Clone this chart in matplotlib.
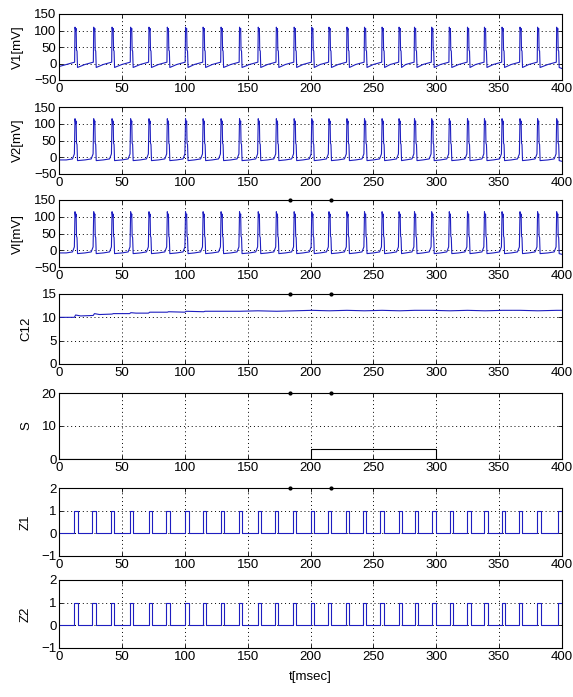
import numpy as np
import matplotlib
matplotlib.use("Agg")
import matplotlib.pyplot as plt

plt.rcParams['font.family'] = ['Liberation Sans', 'DejaVu Sans']
plt.rcParams['font.size'] = 9.5

# spike times of the membrane potentials [msec]
spikes = [12.5, 27.4, 42.0, 56.8, 71.4, 86.0, 100.5, 114.5, 128.8, 143.5,
          158.4, 172.8, 187.0, 201.0, 214.7, 229.0, 243.0, 257.0, 270.5, 282.8,
          296.5, 310.5, 325.0, 338.5, 352.5, 366.8, 380.8, 396.0]

# spike waveform (offset from spike time, value in mV)
v1_dt = [-7.0, -0.3, 0.0, 0.5, 0.9, 1.2, 1.6, 2.0]
v1_v = [-3.0, 4.0, 110.0, 100.0, 106.0, 40.0, 38.0, -12.0]
v2_dt = [-7.0, -2.0, -0.5, 0.0, 0.5, 0.9, 1.2, 1.6, 2.0]
v2_v = [-8.0, -5.0, 10.0, 115.0, 100.0, 108.0, 42.0, 38.0, -10.0]

# coupling strength C12
c12_t = [0, 12, 13, 17, 27, 28, 32, 42, 43, 56, 57, 61, 71, 72, 86, 87, 100, 101,
         115, 116, 129, 144, 158, 173, 187, 201, 215, 229, 243, 257, 271, 283,
         297, 311, 325, 339, 353, 367, 381, 396, 400]
c12_v = [10.0, 10.0, 10.5, 10.3, 10.4, 10.8, 10.6, 10.7, 10.8, 10.8, 11.0, 10.9,
         10.9, 11.1, 11.1, 11.2, 11.1, 11.3, 11.2, 11.3, 11.3, 11.3, 11.4, 11.3,
         11.4, 11.5, 11.4, 11.5, 11.4, 11.5, 11.4, 11.5, 11.5, 11.4, 11.5, 11.4,
         11.5, 11.5, 11.4, 11.5, 11.5]

# stimulus S
s_t = [0, 200, 200, 300, 300, 400]
s_v = [0, 0, 3, 3, 0, 0]

# pulse outputs Z1, Z2 (rise times, pulse length)
z_on = [11.9, 26.4, 41.0, 56.1, 71.3, 85.3, 100.4, 114.4, 128.4, 142.9,
        158.1, 171.8, 185.7, 200.3, 214.0, 227.9, 241.9, 255.6, 270.1, 283.2,
        297.1, 310.8, 324.8, 338.5, 352.1, 366.1, 380.7, 397.3]
z_len = 2.6

# little black marks sitting on the top edge of panels 3-6
mark_t = [184, 216]


def spike_trace(times, dts, vals, v0, v_end):
    t = [0.0]
    v = [v0]
    for s in times:
        for d, y in zip(dts, vals):
            if 0 < s + d < 400:
                t.append(s + d)
                v.append(y)
    t.append(400.0)
    v.append(v_end)
    return t, v


def pulse_trace(ons, width):
    t = [0.0]
    v = [0.0]
    for s in ons:
        e = min(s + width, 400.0)
        t += [s, s, e, e]
        v += [0, 1, 1, 0]
    t.append(400.0)
    v.append(0.0)
    return t, v


blue = '#1e1ec0'
W, H = 573, 697
fig = plt.figure(figsize=(W / 100, H / 100), dpi=100)

tops = [14, 107, 200, 294, 393, 488, 580]
bots = [80, 174, 267, 364, 459, 556, 648]
left, right = 59.3, 561.7

axes = []
for tp, bt in zip(tops, bots):
    ax = fig.add_axes([left / W, 1 - bt / H, (right - left) / W, (bt - tp) / H])
    axes.append(ax)

t1, v1 = spike_trace(spikes, v1_dt, v1_v, -9.0, -15.0)
t2, v2 = spike_trace(spikes, v2_dt, v2_v, -8.0, -12.0)
zt, zv = pulse_trace(z_on, z_len)

axes[0].plot(t1, v1, color=blue, lw=0.8)
axes[1].plot(t2, v2, color=blue, lw=0.8)
axes[2].plot(t2, v2, color=blue, lw=0.8)
axes[3].plot(c12_t, c12_v, color=blue, lw=0.8)
axes[4].plot(s_t, s_v, color='black', lw=0.8)
axes[5].plot(zt, zv, color=blue, lw=0.8)
axes[6].plot(zt, zv, color=blue, lw=0.8)

ylabels = ['V1[mV]', 'V2[mV]', 'VI[mV]', 'C12', 'S', 'Z1', 'Z2']
ylims = [(-50, 150)] * 3 + [(0, 15), (0, 20), (-1, 2), (-1, 2)]
yticks = [[-50, 0, 50, 100, 150]] * 3 + [[0, 5, 10, 15], [0, 10, 20],
                                          [-1, 0, 1, 2], [-1, 0, 1, 2]]

for ax, lab, yl, yt in zip(axes, ylabels, ylims, yticks):
    ax.set_xlim(0, 400)
    ax.set_ylim(*yl)
    ax.set_xticks(np.arange(0, 401, 50))
    ax.set_yticks(yt)
    ax.set_ylabel(lab, labelpad=7)
    ax.grid(True, color='black', linestyle=(0, (1, 3)), linewidth=0.7)
    ax.tick_params(direction='in', length=3, width=0.6, pad=2,
                   top=True, right=True)
    for sp in ax.spines.values():
        sp.set_linewidth(0.8)

for ax in axes[2:6]:
    ax.plot(mark_t, [ax.get_ylim()[1]] * 2, ls='none', marker='o', ms=2,
            color='black', clip_on=False)

axes[-1].set_xlabel('t[msec]', labelpad=6)

fig.savefig('out.png', dpi=100)
